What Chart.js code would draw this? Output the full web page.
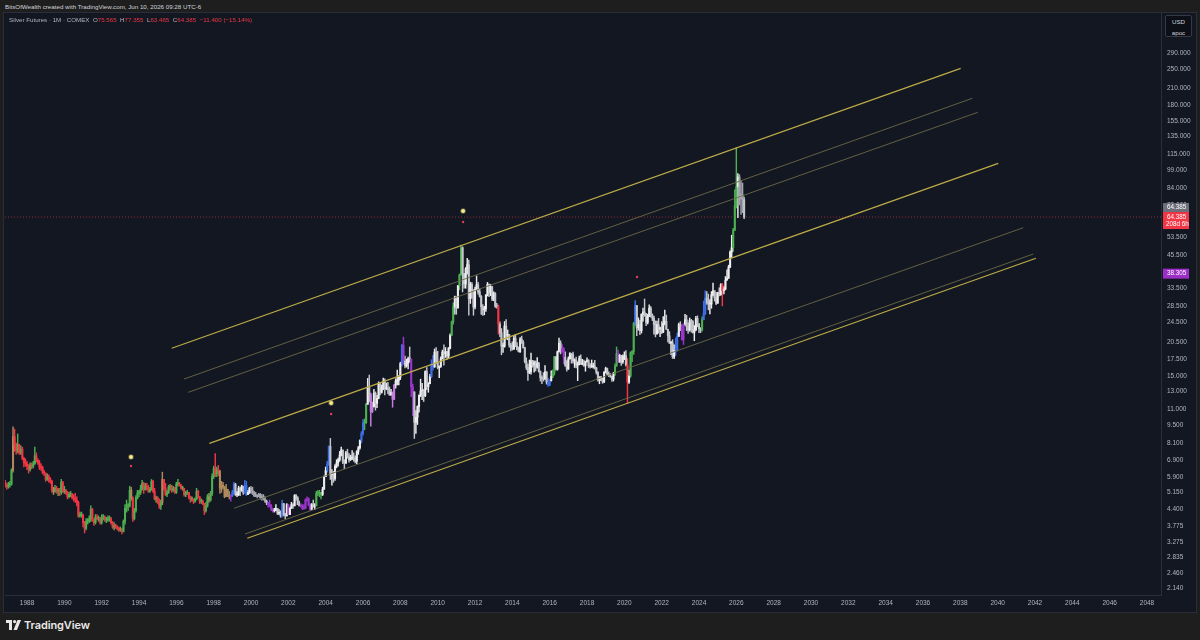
<!DOCTYPE html>
<html><head><meta charset="utf-8">
<script src="https://cdn.jsdelivr.net/npm/chart.js@4.4.1/dist/chart.umd.min.js"></script>
<style>
html,body{margin:0;padding:0;background:#1e1e1e;width:1200px;height:640px;overflow:hidden;font-family:"Liberation Sans",Arial,sans-serif;}
#hdr{position:absolute;left:5px;top:3px;font-size:6.2px;color:#d1d4dc;white-space:nowrap;}
#panel{position:absolute;left:4px;top:13px;width:1192px;height:599px;background:#131722;}
#frame{position:absolute;left:3px;top:12px;width:1192px;height:599px;border:1px solid #2a2e39;pointer-events:none;}
#legend{position:absolute;left:9px;top:16px;font-size:6.2px;color:#b2b5be;white-space:nowrap;}
#legend .r{color:#f23645}
#usd{position:absolute;left:1165px;top:15px;width:27px;height:22px;border:1px solid #363a45;border-radius:2px;background:#0d0f16;color:#d1d4dc;font-size:6.2px;text-align:center;line-height:10.5px;padding-top:1px;box-sizing:border-box;}
#logo{position:absolute;left:6px;top:619px;height:12px;display:flex;align-items:center;}
#logo span{font-family:Inter,"Open Sans",sans-serif;font-weight:600;font-size:11px;color:#e8e8e8;margin-left:3px;letter-spacing:-0.1px;}
canvas{position:absolute;left:0;top:0;}
</style>
</head><body>
<div id="hdr">BitsOfWealth created with TradingView.com, Jun 10, 2026 09:28 UTC-6</div>
<div id="panel"><canvas id="c" width="1192" height="599" style="width:1192px;height:599px"></canvas></div>
<div id="frame"></div>
<div id="legend">Silver Futures · 1M · COMEX &nbsp;O<span class="r">75.565</span> &nbsp;H<span class="r">77.355</span> &nbsp;L<span class="r">63.465</span> &nbsp;C<span class="r">64.385</span> &nbsp;<span class="r">−11.400 (−15.14%)</span></div>
<div id="usd">USD<br>apoc</div>
<div id="logo"><svg width="15" height="10" viewBox="0 0 15 10"><path d="M0 0h6v10H3V3H0z" fill="#e8e8e8"/><circle cx="8.6" cy="1.6" r="1.6" fill="#e8e8e8"/><path d="M11.5 0H15L11 10H7.5z" fill="#e8e8e8"/></svg><span>TradingView</span></div>
<script>
// ---------- DATA ----------
const START_YEAR = 1986, START_MONTH = 9; // first candle: Oct 1986
const FIRST_OPEN = 5.60;
const closes = [
5.65,5.50,5.42,
5.52,5.55,6.30,8.60,8.00,7.55,8.00,7.40,7.65,7.05,6.75,6.70,
6.55,6.35,6.60,6.55,6.70,7.20,6.90,6.75,6.50,6.45,6.20,6.15,
5.80,5.95,5.80,5.70,5.25,5.20,5.35,5.20,5.20,5.15,5.65,5.20,
5.25,5.15,4.95,5.05,5.05,4.90,4.85,4.80,4.70,4.15,4.20,4.20,
3.90,3.70,3.95,3.95,4.05,4.40,4.00,3.90,4.10,4.05,4.05,3.90,
4.10,4.10,4.00,4.00,4.05,4.05,3.90,3.75,3.80,3.75,3.70,3.65,
3.68,3.60,3.95,4.45,4.55,4.55,5.25,4.90,4.05,4.35,4.90,5.12,
5.15,5.30,5.60,5.30,5.45,5.35,5.20,5.30,5.70,5.20,4.85,4.90,
4.75,4.55,4.70,5.80,5.35,5.05,5.15,5.40,5.45,5.25,5.35,5.15,
5.55,5.55,5.50,5.35,5.35,5.05,5.10,5.15,4.95,4.85,4.85,4.75,
4.85,5.20,4.95,4.75,4.75,4.65,4.35,4.55,4.95,4.80,5.10,5.95,
6.40,6.10,6.35,6.25,5.35,5.50,5.40,4.95,5.30,5.00,4.95,5.00,
5.15,5.55,5.05,5.05,5.35,5.25,5.45,5.15,5.50,5.05,5.15,5.35,
5.25,5.15,5.00,5.00,4.95,5.05,4.90,4.95,4.85,4.75,4.70,4.60,
4.55,4.40,4.35,4.35,4.45,4.25,4.25,4.15,4.65,4.20,4.15,4.60,
4.20,4.45,4.60,4.55,5.00,4.90,4.60,4.55,4.55,4.45,4.45,4.80,
4.85,4.60,4.40,4.60,4.55,4.55,5.10,5.10,5.15,5.05,5.30,5.95,
6.30,6.70,7.85,6.05,6.05,5.85,6.55,6.75,6.95,7.25,7.60,6.85,
6.75,7.40,7.15,6.95,7.05,7.05,7.00,6.85,7.50,7.75,8.30,8.85,
9.75,9.75,11.55,13.55,12.60,10.80,11.30,12.80,11.65,12.20,14.00,12.90,
13.40,14.25,13.35,13.45,13.25,12.60,12.90,12.10,13.80,14.30,14.40,14.80,
16.80,19.85,17.20,16.45,16.85,17.55,17.50,13.55,12.95,9.80,10.25,11.30,
12.55,13.05,13.10,12.50,15.60,13.60,13.95,14.90,16.70,16.30,18.65,16.90,
16.20,16.35,17.55,18.65,18.40,18.70,18.00,19.35,21.75,24.60,28.20,30.90,
27.95,34.30,37.85,48.60,38.30,34.80,40.00,41.60,30.45,34.70,32.75,28.20,
33.20,34.60,32.45,31.15,28.25,27.50,27.75,31.50,34.65,32.20,34.00,30.35,
31.95,28.45,28.40,24.15,22.30,19.70,19.70,23.70,21.75,21.85,19.90,19.50,
19.15,21.20,19.75,19.10,18.70,21.00,20.40,19.45,17.10,16.20,15.50,15.60,
17.25,16.55,17.00,16.25,16.80,15.60,14.75,14.60,14.55,15.55,14.15,13.80,
14.35,14.95,15.40,17.85,15.95,18.70,20.25,18.70,19.25,17.80,16.55,15.99,
17.55,18.40,18.25,17.20,17.30,16.55,16.70,17.55,16.70,16.75,16.50,17.15,
17.25,16.45,16.30,16.35,16.40,16.15,15.50,14.45,14.70,14.70,14.20,15.50,
16.05,15.25,15.10,14.95,14.55,15.35,16.40,18.40,17.00,18.10,17.05,17.90,
18.05,16.60,14.15,15.00,18.55,18.75,24.30,28.60,23.30,23.95,22.70,26.40,
26.95,26.55,24.50,25.95,27.90,26.10,25.50,24.00,22.05,24.00,23.00,23.35,
22.40,24.30,24.75,23.00,21.65,20.25,20.30,17.85,19.00,19.15,21.55,24.00,
23.60,20.90,24.10,25.10,23.55,22.85,24.95,24.65,22.35,22.90,25.40,24.10,
23.10,22.85,25.10,26.60,30.65,29.30,29.00,29.00,31.50,32.75,30.70,29.20,
32.20,31.60,34.60,32.80,33.30,36.10,36.70,40.70,46.70,48.60,57.00,71.50,
85.00,93.00,76.00,79.00,75.565,64.385
];
const highs = [
5.85,5.75,5.60,
5.65,5.70,6.40,9.40,9.20,8.10,8.80,8.00,7.90,7.80,7.10,7.00,
6.85,6.65,6.75,6.75,6.85,7.80,7.40,7.00,6.90,6.70,6.55,6.30,
6.15,6.10,6.05,5.90,5.75,5.40,5.50,5.45,5.35,5.35,5.80,5.70,
5.45,5.30,5.20,5.15,5.20,5.10,5.05,5.10,4.95,4.75,4.30,4.30,
4.20,3.95,4.05,4.05,4.15,4.55,4.45,4.05,4.20,4.20,4.15,4.10,
4.20,4.20,4.15,4.10,4.15,4.15,4.10,3.95,3.90,3.85,3.80,3.75,
3.75,3.70,4.00,4.60,4.80,4.65,5.45,5.40,4.95,4.45,5.00,5.25,
5.25,5.50,5.75,5.65,5.60,5.60,5.50,5.40,5.80,5.75,5.35,4.98,
4.95,4.85,4.80,6.20,5.80,5.60,5.25,5.50,5.55,5.50,5.45,5.40,
5.65,5.80,5.65,5.55,5.45,5.35,5.20,5.25,5.15,4.98,4.95,4.85,
4.90,5.35,5.25,4.95,4.85,4.80,4.65,4.70,5.05,5.10,5.20,6.10,
6.55,7.35,6.50,6.60,6.30,5.70,5.65,5.45,5.55,5.30,5.20,5.05,
5.25,5.65,5.60,5.20,5.45,5.40,5.50,5.45,5.75,5.70,5.25,5.40,
5.45,5.40,5.20,5.15,5.05,5.10,5.10,5.05,5.05,4.95,4.80,4.70,
4.80,4.60,4.45,4.45,4.60,4.45,4.40,4.35,4.80,4.65,4.25,4.65,
4.60,4.50,4.70,4.65,5.05,5.05,4.95,4.75,4.65,4.60,4.60,4.85,
4.95,4.90,4.65,4.65,4.80,4.65,5.20,5.25,5.25,5.15,5.40,6.00,
6.50,6.85,7.90,8.45,6.35,6.25,6.65,6.95,7.05,7.50,7.80,7.55,
6.95,7.50,7.65,7.35,7.25,7.55,7.40,7.20,7.55,7.85,8.35,9.00,
10.05,10.10,11.65,14.65,15.10,12.80,11.80,13.25,12.95,12.55,14.20,14.10,
13.80,14.70,14.60,14.05,14.15,13.55,13.25,12.95,13.85,14.60,15.80,15.05,
17.00,20.05,21.40,18.00,17.50,17.80,19.55,17.50,13.90,12.85,10.90,11.40,
12.60,14.55,14.00,13.25,15.70,16.20,14.10,15.20,17.40,18.10,19.20,19.45,
18.80,16.45,17.85,19.00,19.95,19.45,18.80,19.45,22.05,24.80,29.30,31.20,
31.00,34.40,38.20,49.80,49.00,38.10,40.50,44.10,43.35,35.40,35.30,33.10,
33.90,37.50,35.40,33.30,31.30,28.85,28.40,31.60,35.35,34.90,34.70,34.05,
32.45,32.20,29.15,28.75,24.65,23.15,20.30,24.70,25.15,22.85,21.95,20.20,
20.50,21.75,21.90,20.35,19.55,21.30,21.60,20.75,19.50,17.70,16.70,17.35,
18.50,17.30,17.20,17.20,17.75,17.00,15.70,15.00,15.45,16.50,15.60,14.65,
14.50,15.70,15.85,17.95,17.90,18.85,21.20,20.70,20.00,19.45,18.70,17.25,
17.85,18.55,18.45,18.65,17.55,17.80,17.05,18.00,18.20,17.45,17.35,17.15,
17.70,17.40,16.80,17.35,16.85,17.30,16.20,15.60,14.90,14.90,14.70,15.60,
16.25,16.10,15.55,15.30,14.95,15.50,16.75,19.55,19.00,18.30,18.05,18.20,
18.70,18.90,17.60,15.80,18.70,18.90,24.50,29.90,28.10,25.55,25.00,26.50,
27.95,30.35,26.60,26.40,28.75,28.30,26.50,25.95,24.85,24.80,25.40,23.45,
24.70,25.85,27.45,26.20,22.90,22.50,20.60,20.90,19.95,21.25,22.20,24.35,
24.65,23.90,24.20,26.40,26.15,24.40,25.50,25.20,24.90,23.80,25.90,26.00,
24.30,23.35,25.80,29.80,32.75,32.50,31.75,30.20,32.50,35.10,32.40,32.20,
32.30,33.60,34.95,35.00,34.00,37.30,39.70,41.40,47.20,54.50,58.00,82.60,
121.60,96.00,95.00,90.00,88.00,77.355
];
const lows = [
5.50,5.40,5.30,
5.35,5.40,5.50,6.20,7.50,7.30,7.40,7.30,7.30,6.95,6.50,6.55,
6.35,6.15,6.25,6.40,6.45,6.65,6.80,6.65,6.35,6.30,6.10,6.00,
5.70,5.75,5.65,5.60,5.15,5.05,5.15,5.10,5.00,5.00,5.05,5.15,
5.10,5.05,4.85,4.90,4.95,4.85,4.75,4.70,4.55,4.10,4.10,4.10,
3.75,3.55,3.65,3.85,3.90,3.95,3.95,3.80,3.85,4.00,3.95,3.85,
3.85,4.00,3.95,3.90,3.95,3.95,3.85,3.70,3.65,3.70,3.65,3.60,
3.60,3.52,3.58,3.85,4.30,4.35,4.50,4.80,3.95,4.00,4.30,4.85,
4.95,5.05,5.25,5.10,5.25,5.25,5.15,5.15,5.25,5.15,4.80,4.70,
4.65,4.45,4.40,4.60,5.25,5.00,4.95,5.10,5.25,5.15,5.20,5.10,
5.10,5.45,5.45,5.30,5.25,4.98,4.95,5.05,4.85,4.70,4.75,4.65,
4.70,4.80,4.90,4.65,4.65,4.60,4.20,4.30,4.50,4.70,4.75,5.00,
5.85,5.95,5.95,6.00,5.10,5.15,5.30,4.90,4.95,4.95,4.85,4.75,
4.95,5.05,5.00,4.95,5.00,5.00,5.20,5.05,5.10,5.00,5.05,5.10,
5.10,5.05,4.95,4.95,4.90,4.95,4.85,4.80,4.80,4.70,4.60,4.50,
4.50,4.35,4.30,4.30,4.35,4.20,4.20,4.10,4.10,4.15,4.05,4.15,
4.20,4.20,4.45,4.45,4.55,4.80,4.60,4.55,4.50,4.40,4.40,4.45,
4.75,4.55,4.35,4.40,4.50,4.40,4.55,5.00,4.95,4.85,5.00,5.30,
5.95,6.20,6.60,5.80,5.50,5.65,5.75,6.45,6.55,6.85,7.20,6.70,
6.40,6.70,7.05,6.80,6.90,6.95,6.85,6.75,6.70,7.30,7.65,8.10,
8.70,9.15,9.70,11.55,11.80,9.45,10.70,11.25,10.95,11.20,12.15,12.60,
12.80,13.20,12.60,13.20,12.75,12.55,12.55,11.25,12.05,13.40,13.80,13.80,
14.50,16.40,16.65,16.15,16.25,16.00,17.00,12.40,10.40,8.45,8.85,9.60,
10.75,12.40,12.05,11.85,12.40,13.20,12.90,13.95,14.75,15.80,16.20,16.80,
16.00,14.75,16.20,17.50,16.55,17.75,17.45,17.70,19.20,21.80,24.10,26.40,
26.40,27.95,33.00,37.80,32.40,33.50,33.50,38.10,26.15,29.15,30.60,26.15,
27.70,33.05,31.70,30.90,26.35,26.10,26.25,27.10,31.20,31.00,31.30,29.90,
29.90,28.10,27.90,22.00,21.50,18.20,18.60,19.50,21.00,20.90,19.50,18.85,
19.00,19.20,19.60,19.05,18.70,18.60,20.20,19.35,16.90,15.90,14.40,15.30,
15.25,16.25,15.50,15.70,16.10,15.50,14.30,13.95,14.30,14.55,13.90,13.60,
13.70,14.30,14.75,15.10,15.80,15.80,18.70,18.35,18.60,16.75,16.35,15.65,
15.90,17.50,16.85,16.85,16.20,16.15,14.35,16.60,16.65,16.60,16.35,15.65,
17.00,16.20,16.10,16.20,16.10,15.95,15.25,14.30,13.95,14.35,14.00,14.10,
15.40,15.15,14.90,14.80,14.25,14.30,15.05,16.40,16.95,17.35,16.50,16.80,
17.40,16.40,11.65,14.00,14.80,17.10,18.25,23.80,21.70,22.80,21.90,22.20,
24.80,25.90,23.75,24.15,25.80,25.70,24.90,22.00,21.45,22.00,22.20,21.50,
22.10,22.30,23.95,22.95,20.50,20.20,18.20,17.60,17.55,18.10,18.80,21.90,
22.70,20.80,20.00,23.80,22.70,22.15,22.60,22.40,22.20,20.70,22.70,23.50,
22.30,22.30,22.60,25.80,26.30,28.90,27.50,26.50,27.90,31.20,29.80,28.80,
29.30,31.20,31.40,28.50,31.80,33.00,36.20,36.70,40.50,44.50,47.00,57.00,
70.00,64.00,72.00,66.00,67.00,63.465
];
// price-scale tick labels
const priceTicks = [290,250,210,180,155,135,115,99,84,72,62,53.5,45.5,39,33.5,28.5,24.5,20.5,17.5,15,13,11,9.5,8.1,6.9,5.9,5.15,4.4,3.775,3.275,2.835,2.46,2.14];
const yearTicks = [1988,1990,1992,1994,1996,1998,2000,2002,2004,2006,2008,2010,2012,2014,2016,2018,2020,2022,2024,2026,2028,2030,2032,2034,2036,2038,2040,2042,2044,2046,2048];
// visible range
const X_MIN = 1986.82, X_MAX = 2048.75, Y_MIN = 2.009, Y_MAX = 418.6;
// channel lines [year, price]
const chUpper   = [[1995.75, 19.32],[2038.02, 252.0]];
const chThinA   = [[1996.41, 14.57],[2038.64, 191.4]];
const chThinB   = [[1996.64, 12.90],[2038.93, 168.3]];
const chMiddle  = [[1997.77, 8.077],[2040.03, 105.4]];
const chThinC   = [[1999.09, 4.452],[2041.37, 58.38]];
const chThinD   = [[1999.68, 3.516],[2041.91, 45.88]];
const chLower   = [[1999.80, 3.381],[2042.05, 44.11]];
// signal markers [year, price]
const signalTop = [[1993.57, 7.13],[2004.29, 11.69],[2011.36, 68.06]];
const signalDot = [[1993.57, 6.56],[2004.29, 10.57],[2011.36, 61.5],[2020.68, 37.13]];
const LAST_PRICE = 64.385, INDICATOR_PRICE = 38.305;
// candle colour ranges [from, to, key]
const colorRanges = [
 ['1987-04','1987-04','tan'],['1989-06','1989-06','tan'],['1993-08','1993-08','tan'],['1995-04','1995-04','tan'],['1997-10','1997-10','tan'],
 ['1998-05','1998-11','tan'],['1998-12','1998-12','purple'],
 ['1999-01','1999-02','blue'],['1999-09','1999-10','blue'],
 ['2000-01','2000-10','gray'],['2000-12','2001-03','purple'],['2001-09','2001-09','blue'],['2002-01','2002-01','purple'],
 ['2002-09','2003-03','purple'],['2003-07','2003-10','green'],['2004-02','2004-03','blue'],
 ['2005-12','2006-01','blue'],['2006-02','2006-03','green'],['2006-06','2006-07','pink'],['2007-08','2007-09','pink'],
 ['2008-02','2008-02','blue'],['2008-03','2008-03','purple'],['2008-08','2008-09','purple'],['2009-09','2009-10','blue'],
 ['2010-10','2010-11','green'],['2011-03','2011-04','green'],['2013-04','2013-04','red'],
 ['2015-12','2016-01','blue'],['2016-03','2016-04','green'],['2016-09','2016-10','purple'],
 ['2019-07','2019-08','green'],['2019-09','2019-09','purple'],['2020-03','2020-03','red'],['2020-05','2020-07','green'],['2020-08','2020-08','blue'],
 ['2022-10','2022-11','blue'],['2023-02','2023-03','purple'],['2024-03','2024-03','green'],['2024-04','2024-05','blue'],
 ['2025-04','2025-04','red'],['2025-11','2026-01','green'],['2026-03','2026-05','gray']
];
// ---------- STYLE ----------
const PALETTE = {green:'#4caf50', red:'#f23645', white:'#eeeeef', gray:'#a3a6ae', blue:'#3c6ee6', purple:'#9b36cc', pink:'#c57fe0', tan:'#b08a5c'};
function key(y,m){return y+'-'+String(m+1).padStart(2,'0');}
function colorFor(y,m,up){
  const k = key(y,m);
  for (const [a,b,c] of colorRanges){ if (k>=a && k<=b) return PALETTE[c]; }
  if (y < 1999) return up ? PALETTE.green : PALETTE.red;
  return up ? PALETTE.white : '#c4c6cc';
}
const wickData=[], bodyData=[], candleColors=[];
for (let i=0;i<closes.length;i++){
  const mAbs = START_MONTH + i;
  const yr = START_YEAR + Math.floor(mAbs/12), mo = mAbs % 12;
  const x = START_YEAR + mAbs/12;
  const o = i===0 ? FIRST_OPEN : closes[i-1], c = closes[i];
  const h = Math.max(highs[i], o, c), l = Math.min(lows[i], o, c);
  wickData.push({x, y:[l,h]});
  bodyData.push({x, y:[Math.min(o,c), Math.max(o,c)]});
  candleColors.push(colorFor(yr, mo, c>=o));
}
const pts = a => a.map(p=>({x:p[0], y:p[1]}));
const BRIGHT='#bcab47', DIM='#6c6947';
function lineDs(arr,color,w){return {type:'line', data:pts(arr), borderColor:color, borderWidth:w, pointRadius:0, pointHoverRadius:0, order:0, fill:false};}

const priceTags = {
  id:'priceTags',
  afterDraw(chart){
    const {ctx, chartArea, scales:{y}} = chart;
    const x0 = chartArea.right + 1, w = 26;
    ctx.save();
    ctx.font = '6.3px "Liberation Sans", Arial, sans-serif';
    ctx.textBaseline = 'middle'; ctx.textAlign = 'left';
    const py = y.getPixelForValue(LAST_PRICE);
    ctx.fillStyle = '#6d707b'; ctx.fillRect(x0+1, py-14, w, 9);
    ctx.fillStyle = '#ffffff'; ctx.fillText('64.385', x0+5, py-9.5);
    ctx.fillStyle = '#f23645'; ctx.fillRect(x0+1, py-5, w, 17);
    ctx.fillStyle = '#ffffff'; ctx.fillText('64.385', x0+5, py); ctx.fillText('208d 6h', x0+4, py+7.5);
    const pp = y.getPixelForValue(INDICATOR_PRICE);
    ctx.fillStyle = '#9c2fc6'; ctx.fillRect(x0+1, pp-5, w, 10);
    ctx.fillStyle = '#ffffff'; ctx.fillText('38.305', x0+5, pp);
    ctx.restore();
  }
};

new Chart(document.getElementById('c'), {
  type:'bar',
  data:{datasets:[
    lineDs(chUpper,BRIGHT,1.2), lineDs(chThinA,DIM,0.9), lineDs(chThinB,DIM,0.9), lineDs(chMiddle,BRIGHT,1.2),
    lineDs(chThinC,DIM,0.9), lineDs(chThinD,DIM,0.9), lineDs(chLower,BRIGHT,1.2),
    {type:'scatter', data:pts(signalTop), pointStyle:'circle', pointRadius:2, pointHoverRadius:2, backgroundColor:'#f6e98a', borderColor:'rgba(246,233,138,0.35)', borderWidth:1.5, order:0},
    {type:'scatter', data:pts(signalDot), pointStyle:'circle', pointRadius:1.2, pointHoverRadius:1.2, backgroundColor:'#e23a5c', borderWidth:0, order:0},
    {type:'line', data:[{x:X_MIN,y:LAST_PRICE},{x:X_MAX,y:LAST_PRICE}], borderColor:'rgba(242,54,69,0.55)', borderWidth:1, borderDash:[1,2], pointRadius:0, pointHoverRadius:0, order:5},
    {type:'bar', data:wickData, backgroundColor:candleColors, barThickness:0.8, grouped:false, borderWidth:0, order:3},
    {type:'bar', data:bodyData, backgroundColor:candleColors, barThickness:1.4, grouped:false, borderWidth:0, minBarLength:1, order:2}
  ]},
  options:{
    responsive:false, animation:false, events:[],
    layout:{autoPadding:false, padding:{left:1,right:0,top:0,bottom:0}},
    plugins:{legend:{display:false}, tooltip:{enabled:false}},
    scales:{
      x:{type:'linear', min:X_MIN, max:X_MAX, offset:false,
        grid:{display:false, drawTicks:false}, border:{display:true, color:'#2a2e39'},
        ticks:{color:'#b2b5be', font:{size:6.5, family:'"Liberation Sans", Arial, sans-serif'}, padding:4, autoSkip:false, maxRotation:0, callback:v=>String(v)},
        afterBuildTicks:s=>{s.ticks = yearTicks.map(v=>({value:v}));},
        afterFit:s=>{s.height=17; s.paddingLeft=0; s.paddingRight=0;}
      },
      y:{type:'logarithmic', position:'right', min:Y_MIN, max:Y_MAX,
        grid:{display:false, drawTicks:false}, border:{display:true, color:'#2a2e39'},
        ticks:{color:'#b2b5be', font:{size:6.5, family:'"Liberation Sans", Arial, sans-serif'}, padding:6, autoSkip:false, callback:v=>Number(v).toFixed(3)},
        afterBuildTicks:s=>{s.ticks = priceTicks.map(v=>({value:v}));},
        afterFit:s=>{s.width=35; s.paddingTop=0; s.paddingBottom=0;}
      }
    }
  },
  plugins:[priceTags]
});
</script>
</body></html>
